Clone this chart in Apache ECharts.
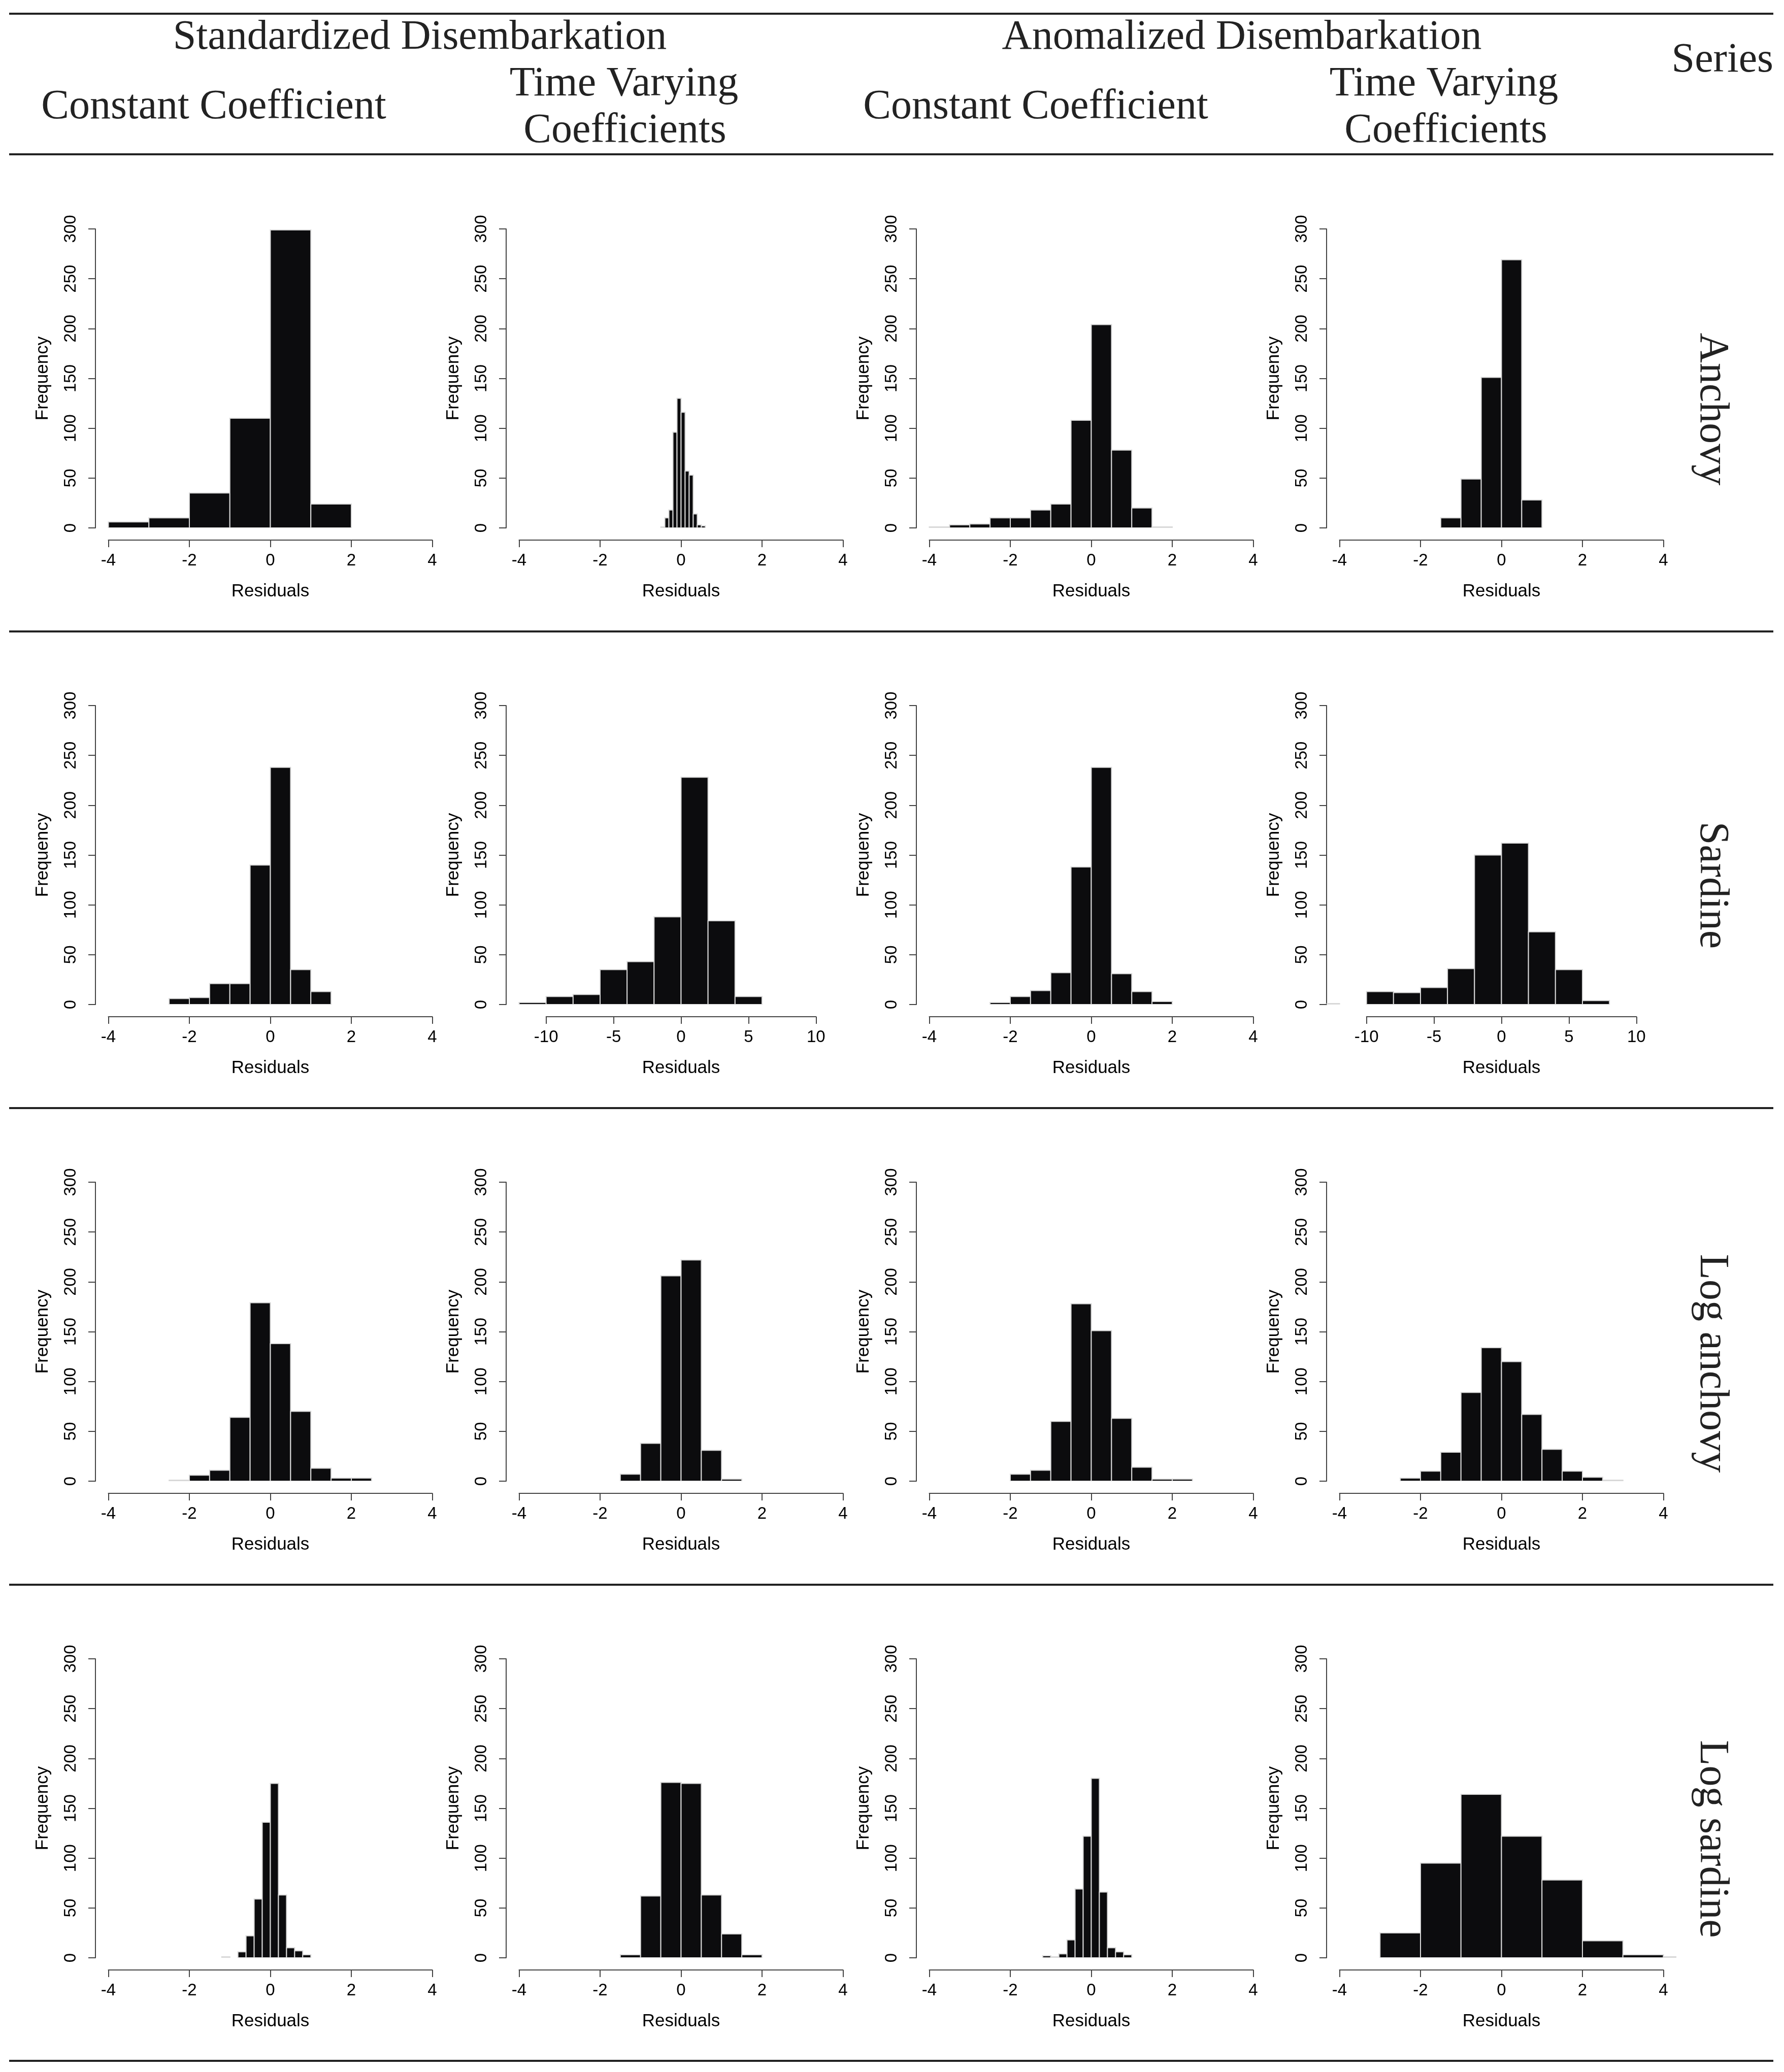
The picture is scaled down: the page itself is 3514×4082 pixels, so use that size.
<!DOCTYPE html>
<html>
<head>
<meta charset="UTF-8">
<title>Residual histograms</title>
<style>
  html, body { margin: 0; padding: 0; background: #ffffff; }
  #main { width: 3514px; height: 4082px; }
</style>
</head>
<body>
<div id="main"></div>
<script src="https://cdn.jsdelivr.net/npm/echarts@6/dist/echarts.min.js"></script>
<script>
// row / column labels
var rowNames = ['Anchovy', 'Sardine', 'Log anchovy', 'Log sardine'];
var groupNames = ['Standardized Disembarkation', 'Anomalized Disembarkation'];

// histogram counts (left to right, one per bin)
var anchovyStdConst = [6, 10, 35, 110, 299, 24];
var anchovyStdTv = [1, 10, 18, 96, 130, 116, 57, 53, 14, 3, 2];
var anchovyAnomConst = [1, 3, 4, 10, 10, 18, 24, 108, 204, 78, 20, 1];
var anchovyAnomTv = [10, 49, 151, 269, 28];

var sardineStdConst = [6, 7, 21, 21, 140, 238, 35, 13];
var sardineStdTv = [2, 8, 10, 35, 43, 88, 228, 84, 8];
var sardineAnomConst = [2, 8, 14, 32, 138, 238, 31, 13, 3];
var sardineAnomTv = [1, 0, 13, 12, 17, 36, 150, 162, 73, 35, 4];

var logAnchovyStdConst = [1, 6, 11, 64, 179, 138, 70, 13, 3, 3];
var logAnchovyStdTv = [7, 38, 206, 222, 31, 2];
var logAnchovyAnomConst = [7, 11, 60, 178, 151, 63, 14, 2, 2];
var logAnchovyAnomTv = [3, 10, 29, 89, 134, 120, 67, 32, 10, 4, 1];

var logSardineStdConst = [1, 0, 6, 22, 59, 136, 175, 63, 10, 7, 3];
var logSardineStdTv = [3, 62, 176, 175, 63, 24, 3];
var logSardineAnomConst = [2, 1, 4, 18, 69, 122, 180, 66, 10, 6, 3];
var logSardineAnomTv = [25, 95, 164, 122, 78, 17, 3, 1];

// first break and bin width of each histogram
var binStarts = [-4, -0.5, -4, -1.5,  -2.5, -12, -2.5, -14,  -2.5, -1.5, -2, -2.5,  -1.2, -1.5, -1.2, -3];
var binWidths = [1, 0.1, 0.5, 0.5,  0.5, 2, 0.5, 2,  0.5, 0.5, 0.5, 0.5,  0.2, 0.5, 0.2, 1];

// x axis ticks [min, max, step]
var ticksNarrow = [-4, 4, 2];
var ticksWide = [-10, 10, 5];
var yTicks = [0, 300, 50];

var allCounts = [
  anchovyStdConst, anchovyStdTv, anchovyAnomConst, anchovyAnomTv,
  sardineStdConst, sardineStdTv, sardineAnomConst, sardineAnomTv,
  logAnchovyStdConst, logAnchovyStdTv, logAnchovyAnomConst, logAnchovyAnomTv,
  logSardineStdConst, logSardineStdTv, logSardineAnomConst, logSardineAnomTv
];
var wide = [5, 7]; // panels whose axis runs -10..10

// layout
var W = 689, H = 589;
var colLeft = [188, 997, 1805, 2613];
var rowTop = [451, 1390, 2329, 3268];
var sans = 'Liberation Sans';
var serif = 'Liberation Serif';
var axisStyle = { color: '#444', width: 2 };

var grids = [], xAxes = [], yAxes = [], series = [];

function renderBar(params, api) {
  var a = api.coord([api.value(0), api.value(2)]);
  var b = api.coord([api.value(1), 0]);
  return {
    type: 'rect',
    shape: { x: a[0], y: a[1], width: b[0] - a[0], height: b[1] - a[1] },
    style: { fill: '#0c0c0e', stroke: '#d8d8d8', lineWidth: 2 }
  };
}

allCounts.forEach(function (counts, i) {
  var r = Math.floor(i / 4), c = i % 4;
  var ticks = wide.indexOf(i) >= 0 ? ticksWide : ticksNarrow;
  var lim = wide.indexOf(i) >= 0 ? 12 : 4;
  var lo = -lim * 1.08, hi = lim * 1.08;

  // plot region
  grids.push({ left: colLeft[c], top: rowTop[r], width: W, height: H });
  xAxes.push({ gridIndex: 2 * i, type: 'value', min: lo, max: hi, show: false });
  yAxes.push({
    gridIndex: 2 * i, type: 'value', position: 'left',
    min: yTicks[0], max: yTicks[1], interval: yTicks[2],
    axisLine: { show: true, onZero: false, lineStyle: axisStyle },
    axisTick: { show: true, length: 14, lineStyle: axisStyle },
    splitLine: { show: false },
    axisLabel: { rotate: 90, margin: 32, fontSize: 33, color: '#000', fontFamily: sans },
    name: 'Frequency', nameLocation: 'middle', nameGap: 86,
    nameTextStyle: { fontSize: 35, color: '#000', fontFamily: sans }
  });

  // x axis, drawn only between first and last tick
  var gx = colLeft[c] + (ticks[0] - lo) / (hi - lo) * W;
  var gw = (ticks[1] - ticks[0]) / (hi - lo) * W;
  grids.push({ left: gx, top: rowTop[r] + H + 24 - 10, width: gw, height: 10 });
  xAxes.push({
    gridIndex: 2 * i + 1, type: 'value', position: 'bottom',
    min: ticks[0], max: ticks[1], interval: ticks[2],
    axisLine: { show: true, onZero: false, lineStyle: axisStyle },
    axisTick: { show: true, length: 14, lineStyle: axisStyle },
    splitLine: { show: false },
    axisLabel: { margin: 24, fontSize: 33, color: '#000', fontFamily: sans },
    name: 'Residuals', nameLocation: 'middle', nameGap: 84,
    nameTextStyle: { fontSize: 35, color: '#000', fontFamily: sans }
  });
  yAxes.push({ gridIndex: 2 * i + 1, type: 'value', min: 0, max: 1, show: false });

  var data = [];
  counts.forEach(function (n, k) {
    if (n > 0) {
      data.push([binStarts[i] + k * binWidths[i], binStarts[i] + (k + 1) * binWidths[i], n]);
    }
  });
  series.push({
    type: 'custom', xAxisIndex: 2 * i, yAxisIndex: 2 * i, clip: true,
    renderItem: renderBar, data: data, silent: true
  });
});

// table text and rules
function label(x, y, text, align, rot) {
  return {
    type: 'text', x: x, y: y, rotation: rot || 0, silent: true,
    style: {
      text: text, fontSize: 82, fontFamily: serif, fill: '#222',
      align: align || 'center', verticalAlign: 'middle',
      textAlign: align || 'center', textVerticalAlign: 'middle'
    }
  };
}
function rule(y) {
  return {
    type: 'line', silent: true,
    shape: { x1: 18, y1: y, x2: 3493, y2: y },
    style: { stroke: '#222', lineWidth: 4 }
  };
}

var graphics = [
  rule(27), rule(304), rule(1244), rule(2183), rule(3122), rule(4060),
  label(827, 74, groupNames[0]),
  label(2446, 74, groupNames[1]),
  label(3493, 119, 'Series', 'right'),
  label(421, 211, 'Constant Coefficient'),
  label(1229, 166, 'Time Varying'),
  label(1231, 258, 'Coefficients'),
  label(2040, 211, 'Constant Coefficient'),
  label(2844, 166, 'Time Varying'),
  label(2848, 258, 'Coefficients')
];
var rowMid = [806, 1744, 2686, 3623];
rowNames.forEach(function (name, r) {
  graphics.push(label(3372, rowMid[r], name, 'center', -Math.PI / 2));
});

var chart = echarts.init(document.getElementById('main'), null, { renderer: 'canvas' });
chart.setOption({
  backgroundColor: '#ffffff',
  animation: false,
  grid: grids,
  xAxis: xAxes,
  yAxis: yAxes,
  series: series,
  graphic: { elements: graphics }
});
</script>
</body>
</html>
